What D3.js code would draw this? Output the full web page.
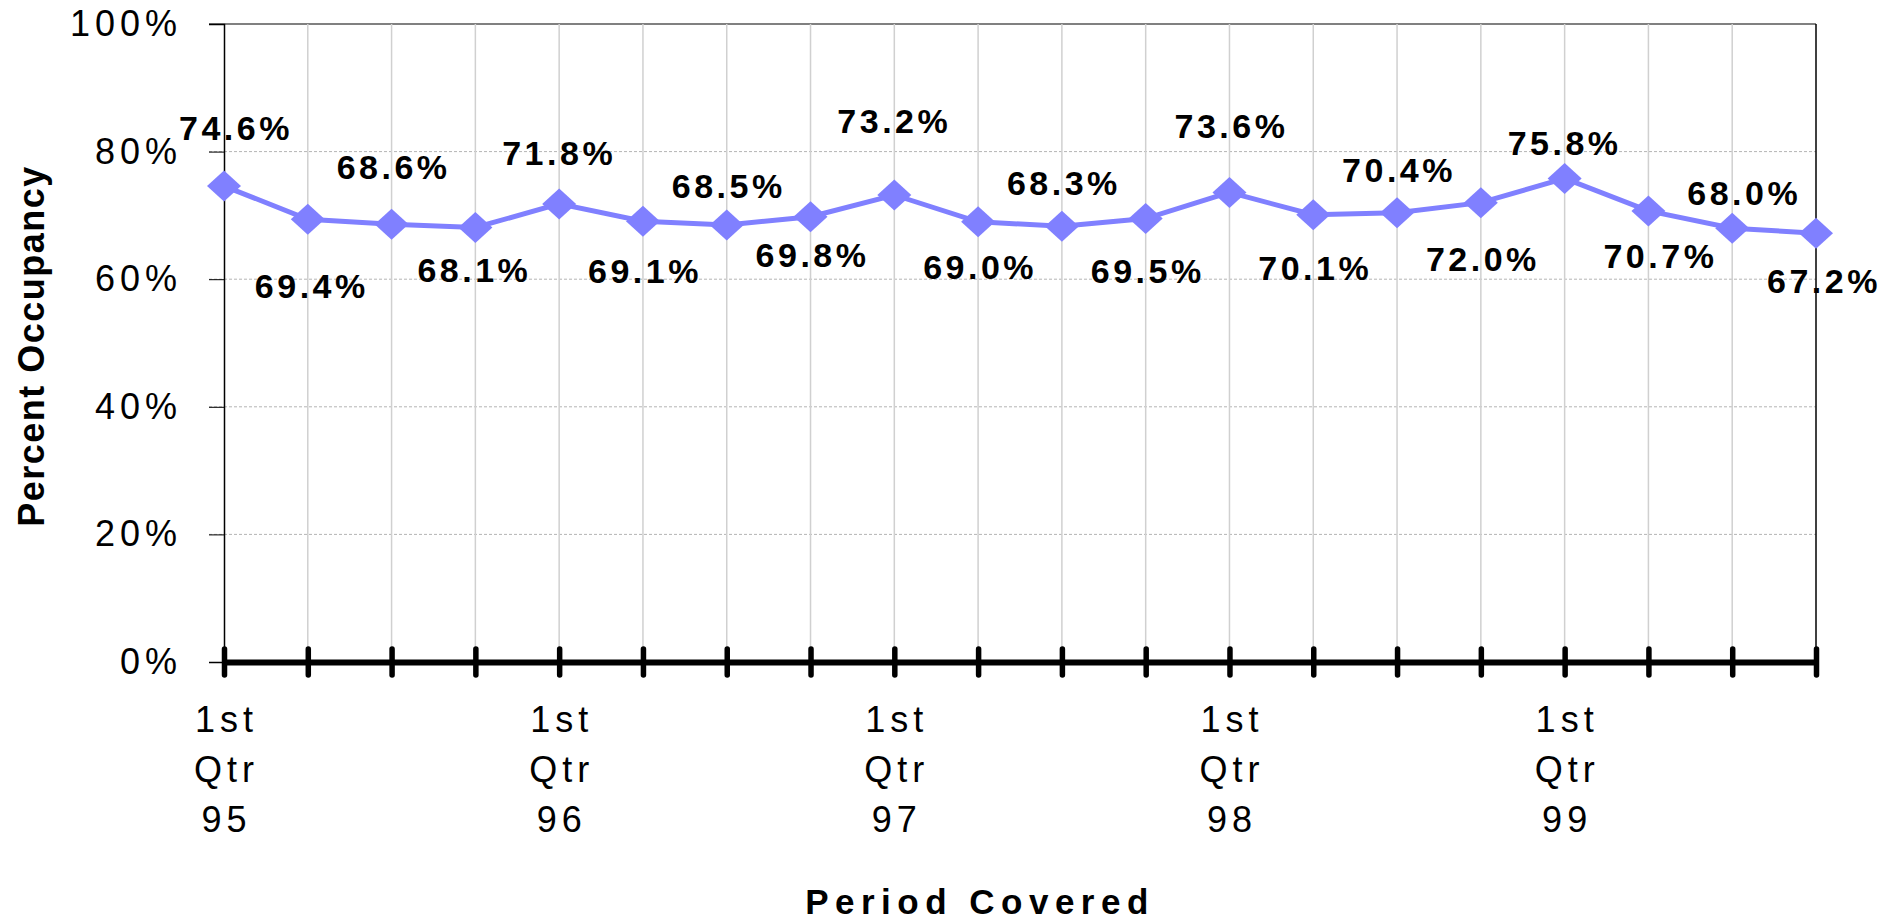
<!DOCTYPE html>
<html lang="en">

<head>
    <meta charset="UTF-8">
    <title>Percent Occupancy</title>
    <script src="https://d3js.org/d3.v7.min.js"></script>
    <style>
        body { margin: 0; background: #fff; }
        text { font-family: Arial, "Liberation Sans", sans-serif; fill: #000; }
    </style>
</head>

<body>
    <div id="chart"></div>

    <script type="text/javascript">

        // quarters from 1st Qtr 95 to 4th Qtr 99
        let quarters = ["1st Qtr 95", "2nd Qtr 95", "3rd Qtr 95", "4th Qtr 95",
            "1st Qtr 96", "2nd Qtr 96", "3rd Qtr 96", "4th Qtr 96",
            "1st Qtr 97", "2nd Qtr 97", "3rd Qtr 97", "4th Qtr 97",
            "1st Qtr 98", "2nd Qtr 98", "3rd Qtr 98", "4th Qtr 98",
            "1st Qtr 99", "2nd Qtr 99", "3rd Qtr 99", "4th Qtr 99"];
        let occupancy = [74.6, 69.4, 68.6, 68.1, 71.8, 69.1, 68.5, 69.8, 73.2, 69.0,
            68.3, 69.5, 73.6, 70.1, 70.4, 72.0, 75.8, 70.7, 68.0, 67.2];
        let yTicks = [0, 20, 40, 60, 80, 100];

        // where each value label sits relative to its point
        let labelDy = [-46, 79, -45, 54, -39, 62, -27, 50, -62, 57, -31, 64, -54, 65, -31, 68, -23, 57, -23, 60];
        let labelDx = [10, 2, 0, -3, -2, 0, 0, 0, -2, 0, 0, 0, 0, 0, 0, 0, -2, 10, 10, 6];

        let width = 1900, height = 922;
        let plotLeft = 224, plotRight = 1816, plotTop = 24, plotBottom = 662;

        let svg = d3.select("#chart").append("svg")
            .attr("width", width)
            .attr("height", height);

        let x = d3.scalePoint().domain(quarters).range([plotLeft, plotRight]);
        let y = d3.scaleLinear().domain([0, 100]).range([plotBottom, plotTop]);

        // horizontal grid
        svg.append("g").selectAll("line")
            .data(yTicks.filter(d => d > 0))
            .enter().append("line")
            .attr("x1", plotLeft - 15).attr("x2", plotRight)
            .attr("y1", d => y(d)).attr("y2", d => y(d))
            .attr("stroke", d => d == 100 ? "#808080" : "#b4b4b4")
            .attr("stroke-width", d => d == 100 ? 2 : 1)
            .attr("stroke-dasharray", d => d == 100 ? null : "3,2");

        // vertical grid
        svg.append("g").selectAll("line")
            .data(quarters.slice(1, -1))
            .enter().append("line")
            .attr("x1", d => x(d)).attr("x2", d => x(d))
            .attr("y1", plotTop).attr("y2", plotBottom)
            .attr("stroke", "#d0d0d0")
            .attr("stroke-width", 1.5);

        // right border
        svg.append("line")
            .attr("x1", plotRight).attr("x2", plotRight)
            .attr("y1", plotTop).attr("y2", plotBottom)
            .attr("stroke", "#000").attr("stroke-width", 1.5);

        // y axis
        let yAxis = svg.append("g")
            .attr("transform", "translate(" + plotLeft + ",0)")
            .call(d3.axisLeft(y).tickValues(yTicks).tickSize(15).tickPadding(27)
                .tickFormat(d => d + "%"));
        yAxis.select(".domain").attr("stroke", "#000").attr("stroke-width", 1.5);
        yAxis.selectAll(".tick line").attr("stroke", "#000").attr("stroke-width", 1);
        yAxis.selectAll("text")
            .attr("font-size", 36)
            .attr("letter-spacing", 5)
            .attr("font-family", "Arial, 'Liberation Sans', sans-serif");

        // x axis (thick line with thick ticks)
        let xAxis = svg.append("g")
            .attr("transform", "translate(0," + plotBottom + ")")
            .call(d3.axisBottom(x).tickSize(0).tickSizeOuter(0).tickFormat(""));
        xAxis.select(".domain").attr("stroke", "#000").attr("stroke-width", 6);
        xAxis.selectAll(".tick").append("line")
            .attr("y1", -13).attr("y2", 13)
            .attr("stroke", "#000")
            .attr("stroke-width", 5.5)
            .attr("stroke-linecap", "round");

        // x tick labels, only on the 1st quarter
        let xLab = xAxis.selectAll(".tick")
            .filter(d => d.startsWith("1st"))
            .append("text")
            .attr("font-size", 36)
            .attr("letter-spacing", 5)
            .attr("text-anchor", "middle");
        xLab.each(function (d) {
            let parts = d.split(" ");
            let t = d3.select(this);
            parts.forEach((p, i) => {
                t.append("tspan").attr("x", 2).attr("y", 70 + i * 50).text(p);
            });
        });

        // line and markers
        let line = d3.line()
            .x((d, i) => x(quarters[i]))
            .y(d => y(d));

        svg.append("path")
            .datum(occupancy)
            .attr("d", line)
            .attr("fill", "none")
            .attr("stroke", "#8080ff")
            .attr("stroke-width", 5);

        svg.append("g").selectAll("path")
            .data(occupancy)
            .enter().append("path")
            .attr("d", "M0,-15.5L17,0L0,15.5L-17,0Z")
            .attr("transform", (d, i) => "translate(" + x(quarters[i]) + "," + y(d) + ")")
            .attr("fill", "#8080ff");

        // value labels
        svg.append("g").selectAll("text")
            .data(occupancy)
            .enter().append("text")
            .attr("x", (d, i) => x(quarters[i]) + labelDx[i] + 2)
            .attr("y", (d, i) => y(d) + labelDy[i])
            .attr("text-anchor", "middle")
            .attr("font-size", 34)
            .attr("font-weight", "bold")
            .attr("letter-spacing", 3.5)
            .text(d => d.toFixed(1) + "%");

        // axis titles
        svg.append("text")
            .attr("x", 980)
            .attr("y", 914)
            .attr("text-anchor", "middle")
            .attr("font-size", 35)
            .attr("font-weight", "bold")
            .attr("letter-spacing", 6.5)
            .text("Period Covered");

        svg.append("text")
            .attr("transform", "translate(44,346) rotate(-90)")
            .attr("text-anchor", "middle")
            .attr("font-size", 36)
            .attr("font-weight", "bold")
            .attr("letter-spacing", 1.5)
            .text("Percent Occupancy");

    </script>
</body>

</html>
